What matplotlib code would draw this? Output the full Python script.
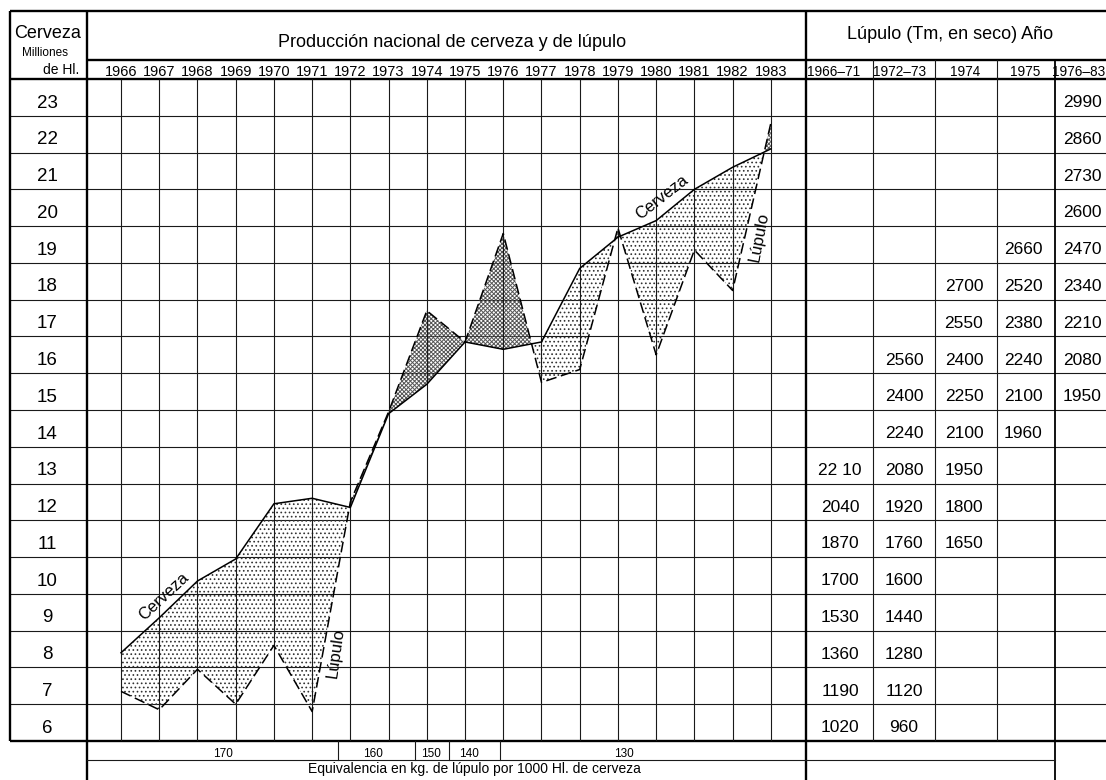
import matplotlib.pyplot as plt
import matplotlib.transforms as mtransforms
import numpy as np

plt.rcParams["font.family"] = ["Liberation Sans", "DejaVu Sans"]
plt.rcParams["hatch.linewidth"] = 0.7

W, H = 1106, 780

# --- data (millions of hl) ---
years = np.arange(1966, 1984)
cerveza = [7.9, 8.85, 9.85, 10.45, 11.95, 12.1, 11.85, 14.4, 15.2, 16.35,
           16.15, 16.35, 18.35, 19.2, 19.65, 20.5, 21.1, 21.6]
lupulo = [6.85, 6.35, 7.45, 6.5, 8.1, 6.3, 12.0, 14.45, 17.2, 16.35,
          19.3, 15.25, 15.6, 19.45, 16.0, 18.85, 17.75, 22.3]
row_values = list(range(23, 5, -1))

# hop table (Tm, dry) : column header, top row, values downwards
lup_headers = ["1966–71", "1972–73", "1974", "1975", "1976–83"]
lup_1966_71 = ["22 10", "2040", "1870", "1700", "1530", "1360", "1190", "1020"]
lup_1972_73 = ["2560", "2400", "2240", "2080", "1920", "1760", "1600", "1440",
               "1280", "1120", "960"]
lup_1974 = ["2700", "2550", "2400", "2250", "2100", "1950", "1800", "1650"]
lup_1975 = ["2660", "2520", "2380", "2240", "2100", "1960"]
lup_1976_83 = ["2990", "2860", "2730", "2600", "2470", "2340", "2210", "2080", "1950"]
lup_top_rows = [13, 16, 18, 19, 23]

equiv_labels = ["170", "160", "150", "140", "130"]

fig = plt.figure(figsize=(W / 100, H / 100), dpi=100)


def px_axes(x0, y0, x1, y1):
    return fig.add_axes([x0 / W, 1 - y1 / H, (x1 - x0) / W, (y1 - y0) / H])


bg = fig.add_axes([0, 0, 1, 1])
bg.set_xlim(0, W)
bg.set_ylim(H, 0)
bg.axis("off")

ax = px_axes(87, 79, 806, 741)
ax.set_xlim(1965.11, 1983.92)
ax.set_ylim(5.5, 23.5)
ax.axis("off")
ax.patch.set_alpha(0)

tab = px_axes(806, 79, 1106, 741)
tab.set_xlim(806, 1106)
tab.set_ylim(5.5, 23.5)
tab.axis("off")
tab.patch.set_alpha(0)

grid_kw = dict(color="#1a1a1a", lw=0.8)
thick_kw = dict(color="black", lw=1.7, solid_capstyle="butt")

# row lines across the whole sheet
row_tr = mtransforms.blended_transform_factory(bg.transData, ax.transData)
bg.hlines(np.arange(6.5, 23.5, 1.0), 10, W, transform=row_tr, **grid_kw)
# year lines
ax.vlines(years, 5.5, 23.5, **grid_kw)
# hop table column lines
tab.vlines([873, 935, 997], 5.5, 23.5, **grid_kw)

# frame of the sheet
bg.plot([10, W], [11, 11], **thick_kw)
bg.plot([10, 10], [11, 741], **thick_kw)
bg.plot([87, 87], [11, H], **thick_kw)
bg.plot([806, 806], [11, H], **thick_kw)
bg.plot([87, W], [60, 60], **thick_kw)
bg.plot([10, W], [79, 79], **thick_kw)
bg.plot([10, W], [741, 741], **thick_kw)
bg.plot([1055, 1055], [60, H], color="black", lw=1.3)
bg.plot([87, 1055], [760, 760], **grid_kw)
for x in [873, 935, 997]:
    bg.plot([x, x], [60, 79], **grid_kw)
for x in [338, 415, 449, 500]:
    bg.plot([x, x], [741, 760], **grid_kw)

# shaded areas between the two series
cer_arr, lup_arr = np.array(cerveza), np.array(lupulo)
ax.fill_between(years, cerveza, lupulo, where=cer_arr >= lup_arr,
                interpolate=True, facecolor="none", edgecolor="#333333",
                hatch="....", linewidth=0, zorder=1)
ax.fill_between(years, cerveza, lupulo, where=lup_arr > cer_arr,
                interpolate=True, facecolor="none", edgecolor="#555555",
                hatch="xxxxxxxx", linewidth=0, zorder=1)

ax.plot(years, cerveza, color="black", lw=1.1, zorder=3)
ax.plot(years, lupulo, color="black", lw=1.1, dashes=(7, 3), zorder=3)

lab_kw = dict(fontsize=12, ha="center", va="center", zorder=4)
ax.text(1967.12, 9.44, "Cerveza", rotation=43, **lab_kw)
ax.text(1980.15, 20.29, "Cerveza", rotation=38, **lab_kw)
ax.text(1971.62, 7.89, "Lúpulo", rotation=82, **lab_kw)
ax.text(1982.68, 19.2, "Lúpulo", rotation=79, **lab_kw)

# headers
bg.text(452, 47, "Producción nacional de cerveza y de lúpulo", fontsize=13,
        ha="center", va="baseline")
bg.text(950, 39, "Lúpulo (Tm, en seco) Año", fontsize=13, ha="center", va="baseline")
bg.text(48, 38, "Cerveza", fontsize=13, ha="center", va="baseline")
bg.text(45, 56, "Milliones", fontsize=8.5, ha="center", va="baseline")
bg.text(61, 74, "de Hl.", fontsize=10, ha="center", va="baseline")

year_tr = mtransforms.blended_transform_factory(ax.transData, bg.transData)
for y in years:
    ax.text(y, 76, str(y), transform=year_tr, fontsize=10.5, ha="center", va="baseline")

for x, h in zip([834, 900, 965, 1025, 1079], lup_headers):
    bg.text(x, 76, h, fontsize=9.8, ha="center", va="baseline")

# row labels (millions of hl)
for v in row_values:
    bg.text(47, v - 0.1, str(v), transform=row_tr, fontsize=13.5,
            ha="center", va="center_baseline")

# hop table values
cols = [lup_1966_71, lup_1972_73, lup_1974, lup_1975, lup_1976_83]
col_x = [840, 904, 964, 1023, 1082]
for x, top, vals in zip(col_x, lup_top_rows, cols):
    for i, s in enumerate(vals):
        tab.text(x, top - i - 0.1, s, fontsize=12.5, ha="center", va="center_baseline")

# equivalence row
for x, s in zip([223, 373, 431, 469, 624], equiv_labels):
    bg.text(x, 757, s, fontsize=8.5, ha="center", va="baseline")
bg.text(474, 773, "Equivalencia en kg. de lúpulo por 1000 Hl. de cerveza",
        fontsize=10, ha="center", va="baseline")

fig.savefig("out.png", dpi=100, facecolor="white")
